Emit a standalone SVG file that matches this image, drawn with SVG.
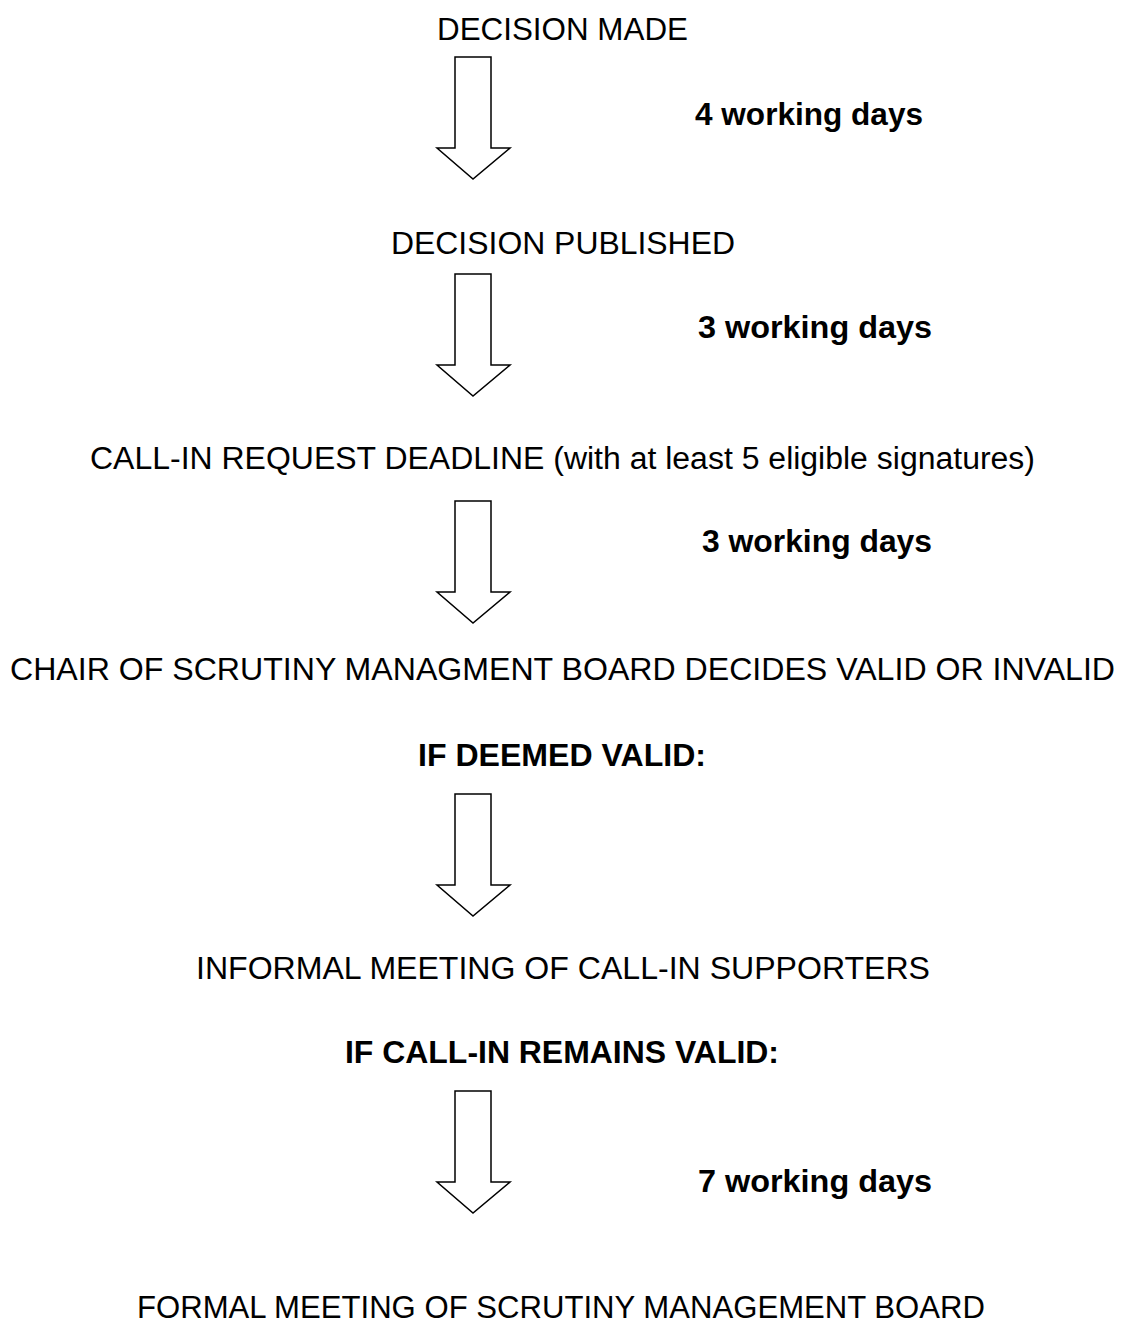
<svg xmlns="http://www.w3.org/2000/svg" width="1121" height="1322" viewBox="0 0 1121 1322">
<defs>
<style>
.t{font-family:"Liberation Sans",Arial,sans-serif;font-size:31px;fill:#000;text-anchor:middle}
.b{font-weight:bold}
.ar{fill:#fff;stroke:#000;stroke-width:1.5;stroke-linejoin:miter}
</style>
<path id="arrow" class="ar" d="M455,0 L491,0 L491,91 L510,91 L473,122 L437,91 L455,91 Z"/>
</defs>
<rect width="1121" height="1322" fill="#fff"/>
<g id="connectors">
<use href="#arrow" transform="translate(0,57)"/>
<use href="#arrow" transform="translate(0,274)"/>
<use href="#arrow" transform="translate(0,501)"/>
<use href="#arrow" transform="translate(0,794)"/>
<use href="#arrow" transform="translate(0,1091)"/>
</g>
<g id="n1"><text class="t" x="562.5" y="40" textLength="251" lengthAdjust="spacingAndGlyphs">DECISION MADE</text></g>
<g id="l1"><text class="t b" x="809" y="125" textLength="228" lengthAdjust="spacingAndGlyphs">4 working days</text></g>
<g id="n2"><text class="t" x="563" y="254" textLength="344" lengthAdjust="spacingAndGlyphs">DECISION PUBLISHED</text></g>
<g id="l2"><text class="t b" x="815" y="338" textLength="234" lengthAdjust="spacingAndGlyphs">3 working days</text></g>
<g id="n3"><text class="t" x="562.5" y="469" textLength="945" lengthAdjust="spacingAndGlyphs">CALL-IN REQUEST DEADLINE (with at least 5 eligible signatures)</text></g>
<g id="l3"><text class="t b" x="817" y="552" textLength="230" lengthAdjust="spacingAndGlyphs">3 working days</text></g>
<g id="n4"><text class="t" x="562.5" y="680" textLength="1105" lengthAdjust="spacingAndGlyphs">CHAIR OF SCRUTINY MANAGMENT BOARD DECIDES VALID OR INVALID</text></g>
<g id="c1"><text class="t b" x="562" y="766" textLength="288" lengthAdjust="spacingAndGlyphs">IF DEEMED VALID:</text></g>
<g id="n5"><text class="t" x="563" y="979" textLength="734" lengthAdjust="spacingAndGlyphs">INFORMAL MEETING OF CALL-IN SUPPORTERS</text></g>
<g id="c2"><text class="t b" x="562" y="1063" textLength="434" lengthAdjust="spacingAndGlyphs">IF CALL-IN REMAINS VALID:</text></g>
<g id="l4"><text class="t b" x="815" y="1192" textLength="234" lengthAdjust="spacingAndGlyphs">7 working days</text></g>
<g id="n6"><text class="t" x="561" y="1318" textLength="848" lengthAdjust="spacingAndGlyphs">FORMAL MEETING OF SCRUTINY MANAGEMENT BOARD</text></g>
</svg>
